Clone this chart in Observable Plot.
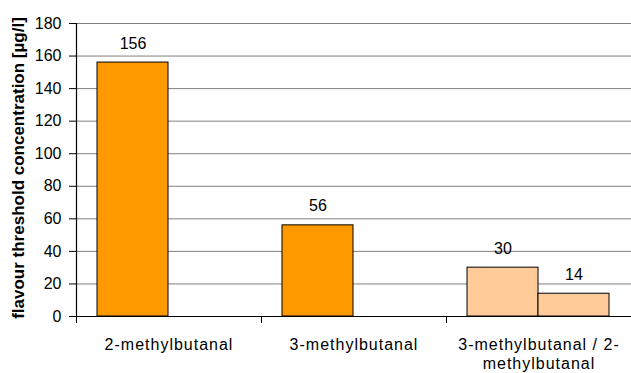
<!DOCTYPE html>
<html>
<head>
<meta charset="utf-8">
<script src="https://cdn.jsdelivr.net/npm/d3@7"></script>
<script src="https://cdn.jsdelivr.net/npm/@observablehq/plot@0.6"></script>
<style>
  html, body { margin: 0; padding: 0; background: #fff; }
  #chart svg { display: block; font-family: "Liberation Sans", Arial, sans-serif; }
  #chart g[aria-label="x-axis tick label"] text { letter-spacing: 1px; }
</style>
</head>
<body>
<div id="chart"></div>
<script>
const categories = ["2-methylbutanal", "3-methylbutanal", "3-methylbutanal / 2-methylbutanal"];
const series1 = [156, 56, 30];
const series2 = [null, null, 14];
const fills1 = ["#FF9900", "#FF9900", "#FFCC99"];
const fills2 = [null, null, "#FFCC99"];
const yTicks = [0, 20, 40, 60, 80, 100, 120, 140, 160, 180];
const yLabel = "flavour threshold concentration [µg/l]";

const barsA = categories.map((c, i) => ({cat: c, value: series1[i], fill: fills1[i]})).filter(d => d.value != null);
const barsB = categories.map((c, i) => ({cat: c, value: series2[i], fill: fills2[i]})).filter(d => d.value != null);

const W = 631, H = 373, ML = 76, MR = 0, MT = 23, MB = 57;
const step = (W - ML - MR) / categories.length;
const gap = 21, barW = 71;

const chart = Plot.plot({
  width: W,
  height: H,
  marginLeft: ML,
  marginRight: MR,
  marginTop: MT,
  marginBottom: MB,
  style: {fontFamily: "'Liberation Sans', Arial, sans-serif", fontSize: "16px", color: "#000", background: "#fff"},
  x: {domain: categories, padding: 0, axis: null},
  y: {domain: [0, 180], axis: null},
  marks: [
    Plot.ruleY(yTicks.slice(1), {stroke: "#808080", strokeWidth: 1, strokeOpacity: 1}),
    Plot.barY(barsA, {x: "cat", y: "value", fill: "fill", stroke: "#000", strokeWidth: 1,
      insetLeft: gap, insetRight: step - gap - barW}),
    Plot.barY(barsB, {x: "cat", y: "value", fill: "fill", stroke: "#000", strokeWidth: 1,
      insetLeft: gap + barW, insetRight: step - gap - 2 * barW}),
    Plot.text(barsA, {x: "cat", y: "value", text: d => String(d.value), dx: gap + barW / 2 - step / 2,
      dy: -14, lineAnchor: "bottom", fontSize: 16, fill: "#000"}),
    Plot.text(barsB, {x: "cat", y: "value", text: d => String(d.value), dx: gap + barW * 1.5 - step / 2,
      dy: -14, lineAnchor: "bottom", fontSize: 16, fill: "#000"}),
    Plot.ruleY([0], {stroke: "#000", strokeWidth: 1.2}),
    Plot.ruleX([categories[0]], {y1: 0, y2: 180, dx: -step / 2, stroke: "#000", strokeWidth: 1.2}),
    Plot.axisY({ticks: yTicks, tickSize: 7, tickPadding: 8, fontSize: 16, label: null, stroke: "#000"}),
    Plot.axisX({tickSize: 7, tickFormat: () => "", dx: -step / 2, label: null, stroke: "#000"}),
    Plot.axisX({tickSize: 0, tickPadding: 20, fontSize: 16, label: null, lineWidth: 11.2, lineHeight: 1.2}),
    Plot.text([yLabel], {frameAnchor: "left", rotate: -90, dx: -58, dy: -2, textAnchor: "middle",
      fontWeight: "bold", fontSize: 17, fill: "#000", text: d => d})
  ]
});
document.getElementById("chart").appendChild(chart);
</script>
</body>
</html>
